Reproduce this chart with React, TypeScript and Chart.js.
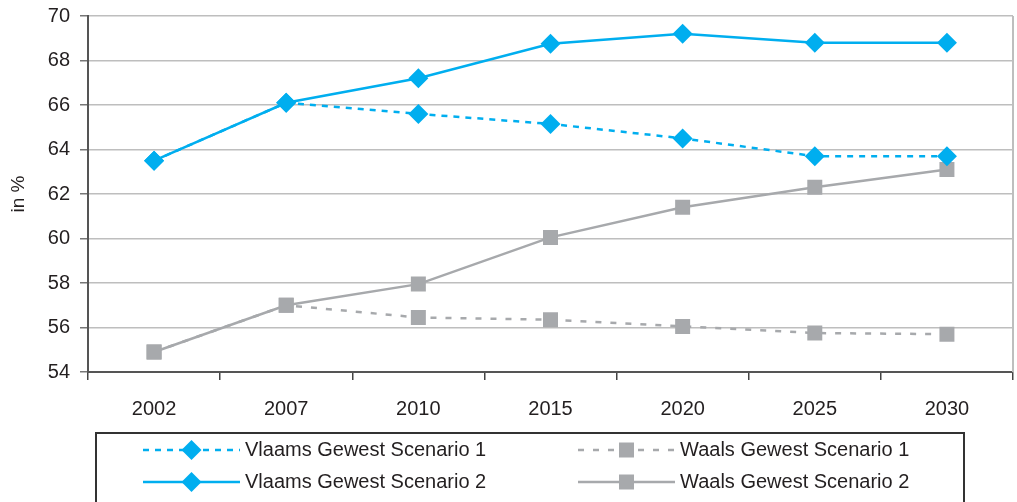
import React, { useEffect, useRef } from 'react';
import { Chart, registerables } from 'chart.js';

Chart.register(...registerables);

const categories = ['2002', '2007', '2010', '2015', '2020', '2025', '2030'];
const vlaamsScenario1 = [63.5, 66.1, 65.6, 65.15, 64.5, 63.7, 63.7];
const vlaamsScenario2 = [63.5, 66.1, 67.2, 68.75, 69.2, 68.8, 68.8];
const waalsScenario1 = [54.9, 57.0, 56.45, 56.35, 56.05, 55.75, 55.7];
const waalsScenario2 = [54.9, 57.0, 57.95, 60.05, 61.4, 62.3, 63.1];
const seriesLabels = [
  'Vlaams Gewest Scenario 1',
  'Vlaams Gewest Scenario 2',
  'Waals Gewest Scenario 1',
  'Waals Gewest Scenario 2',
];
const yMin = 54;
const yMax = 70;
const yStep = 2;
const yTitle = 'in %';

const FONT = '"Liberation Sans", Arial, Helvetica, sans-serif';
const TEXT = '#231F20';
const BLUE = '#00AEEF';
const GRAY = '#A7A9AC';

const legendPlugin = {
  id: 'boxLegend',
  afterDraw(chart: any) {
    const ctx = chart.ctx as CanvasRenderingContext2D;
    const area = chart.chartArea;
    ctx.save();
    // right border of plot area
    ctx.strokeStyle = '#BEBEBE';
    ctx.lineWidth = 2;
    ctx.beginPath();
    ctx.moveTo(area.right, area.top);
    ctx.lineTo(area.right, area.bottom);
    ctx.stroke();

    // legend box
    const boxL = 96, boxT = 433, boxW = 868, boxH = 120;
    ctx.strokeStyle = '#333333';
    ctx.lineWidth = 2;
    ctx.strokeRect(boxL, boxT, boxW, boxH);

    const layout = [
      { ds: 0, x: boxL + 47, y: 450 },
      { ds: 1, x: boxL + 47, y: 482 },
      { ds: 2, x: boxL + 482, y: 450 },
      { ds: 3, x: boxL + 482, y: 482 },
    ];
    const lineLen = 97;
    layout.forEach(({ ds, x, y }) => {
      const d = chart.data.datasets[ds];
      ctx.strokeStyle = d.borderColor;
      ctx.lineWidth = d.borderWidth;
      ctx.setLineDash(d.borderDash || []);
      ctx.beginPath();
      ctx.moveTo(x, y);
      ctx.lineTo(x + lineLen, y);
      ctx.stroke();
      ctx.setLineDash([]);
      const cx = x + lineLen / 2;
      ctx.fillStyle = d.pointBackgroundColor;
      ctx.beginPath();
      if (d.pointStyle === 'rectRot') {
        const r = d.pointRadius;
        ctx.moveTo(cx, y - r);
        ctx.lineTo(cx + r, y);
        ctx.lineTo(cx, y + r);
        ctx.lineTo(cx - r, y);
        ctx.closePath();
      } else {
        const s = d.pointRadius * Math.SQRT1_2;
        ctx.rect(cx - s, y - s, 2 * s, 2 * s);
      }
      ctx.fill();
      ctx.fillStyle = TEXT;
      ctx.font = `20px ${FONT}`;
      ctx.textBaseline = 'middle';
      ctx.textAlign = 'left';
      ctx.fillText(d.label, x + lineLen + 5, y);
    });
    ctx.restore();
  },
};

const zeroPadding = (s: any) => {
  s.paddingTop = 0;
  s.paddingBottom = 0;
  s.paddingLeft = 0;
  s.paddingRight = 0;
};

export default function App() {
  const ref = useRef<HTMLCanvasElement>(null);
  useEffect(() => {
    document.body.style.margin = '0';
    const font = { family: FONT, size: 20 };
    const chart = new Chart(ref.current!, {
      type: 'line',
      data: {
        labels: categories,
        datasets: [
          {
            label: seriesLabels[0],
            data: vlaamsScenario1,
            borderColor: BLUE,
            backgroundColor: BLUE,
            pointBackgroundColor: BLUE,
            pointBorderColor: BLUE,
            borderWidth: 2.5,
            borderDash: [6, 6],
            pointStyle: 'rectRot',
            pointRadius: 10,
            pointBorderWidth: 0,
          },
          {
            label: seriesLabels[1],
            data: vlaamsScenario2,
            borderColor: BLUE,
            backgroundColor: BLUE,
            pointBackgroundColor: BLUE,
            pointBorderColor: BLUE,
            borderWidth: 2.5,
            pointStyle: 'rectRot',
            pointRadius: 10,
            pointBorderWidth: 0,
          },
          {
            label: seriesLabels[2],
            data: waalsScenario1,
            borderColor: GRAY,
            backgroundColor: GRAY,
            pointBackgroundColor: GRAY,
            pointBorderColor: GRAY,
            borderWidth: 2.5,
            borderDash: [6, 9],
            pointStyle: 'rect',
            pointRadius: 10.6,
            pointBorderWidth: 0,
          },
          {
            label: seriesLabels[3],
            data: waalsScenario2,
            borderColor: GRAY,
            backgroundColor: GRAY,
            pointBackgroundColor: GRAY,
            pointBorderColor: GRAY,
            borderWidth: 2.5,
            pointStyle: 'rect',
            pointRadius: 10.6,
            pointBorderWidth: 0,
          },
        ],
      } as any,
      options: {
        animation: false,
        responsive: false,
        layout: { autoPadding: false, padding: { top: 16, right: 4, bottom: 84, left: 0 } },
        plugins: { legend: { display: false }, tooltip: { enabled: false } },
        scales: {
          x: {
            offset: true,
            grid: {
              display: true,
              drawOnChartArea: false,
              offset: true,
              tickLength: 8,
              tickColor: '#444444',
              lineWidth: 1.5,
            },
            border: { color: '#555555', width: 2 },
            ticks: { font, color: TEXT, padding: 17, maxRotation: 0 },
            afterFit: (s: any) => {
              s.height = 46;
              zeroPadding(s);
            },
          },
          y: {
            min: yMin,
            max: yMax,
            ticks: { stepSize: yStep, font, color: TEXT, padding: 10 },
            grid: { color: '#BEBEBE', lineWidth: 1.5, tickLength: 8, tickColor: '#777777' },
            border: { color: '#555555', width: 2 },
            title: {
              display: true,
              text: yTitle,
              font: { family: FONT, size: 19 },
              color: TEXT,
              padding: { top: 7, bottom: 0 },
            },
            afterFit: (s: any) => {
              s.width = 88;
              zeroPadding(s);
            },
          },
        },
      } as any,
      plugins: [legendPlugin],
    });
    return () => chart.destroy();
  }, []);
  return (
    <div style={{ position: 'absolute', left: 0, top: 0, width: 1017, height: 502 }}>
      <canvas ref={ref} width={1017} height={502} style={{ display: 'block' }} />
    </div>
  );
}
